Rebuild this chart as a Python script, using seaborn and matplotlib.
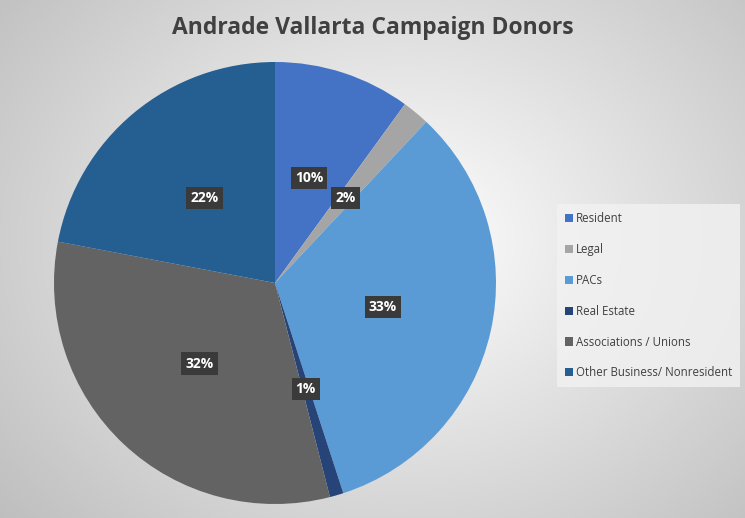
import numpy as np
import matplotlib
matplotlib.use("Agg")
import matplotlib.pyplot as plt
import seaborn as sns

categories = ["Resident", "Legal", "PACs", "Real Estate", "Associations / Unions", "Other Business/ Nonresident"]
values = [10, 2, 33, 1, 32, 22]
colors = ["#4472C4", "#A5A5A5", "#5B9BD5", "#264478", "#636363", "#255E91"]

sns.set_style("white")
plt.rcParams['font.family'] = ['Open Sans', 'DejaVu Sans']

W, H = 745, 518
fig = plt.figure(figsize=(W/100, H/100), dpi=100)

bg = fig.add_axes([0, 0, 1, 1], zorder=0)
yy, xx = np.mgrid[0:H, 0:W]
d = np.sqrt(((xx-400)/520)**2 + ((yy-240)/420)**2)
g = np.clip(1.0 - 0.25*d, 0.72, 1.0)
bg.imshow(np.dstack([g, g, g]), extent=[0, W, H, 0], aspect='auto')
bg.axis('off')

cx, cy, r = 275, 283, 221
ax = fig.add_axes([(cx-r)/W, (H-cy-r)/H, 2*r/W, 2*r/H], zorder=1)
wedges, texts, autotexts = ax.pie(values, colors=colors, startangle=90, counterclock=False,
                                  autopct='%1.0f%%', pctdistance=0.5, radius=1,
                                  wedgeprops=dict(edgecolor='none'))
for t in autotexts:
    t.set_color('white')
    t.set_fontsize(10)
    t.set_fontweight('bold')
    t.set_bbox(dict(boxstyle='square,pad=0.3', facecolor='#3a3a3a', edgecolor='none'))
ax.set_xlim(-1, 1); ax.set_ylim(-1, 1)
ax.set_aspect('auto')
ax.axis('off')

fig.text(373/W, 1-28/H, "Andrade Vallarta Campaign Donors", ha='center', va='center',
         fontsize=16.5, fontweight='bold', color='#404040')

leg = fig.legend(wedges, categories, loc='upper left', bbox_to_anchor=(557/W, 1-204/H),
                 frameon=True, fontsize=8.3, labelspacing=1.55, handlelength=0.7, handleheight=0.7,
                 handletextpad=0.25, borderpad=0.7, borderaxespad=0, fancybox=False,
                 labelcolor='#404040')
leg.get_frame().set_facecolor('#f2f2f2')
leg.get_frame().set_edgecolor('none')
leg.set_zorder(2)

fig.savefig("out.png", dpi=100)
